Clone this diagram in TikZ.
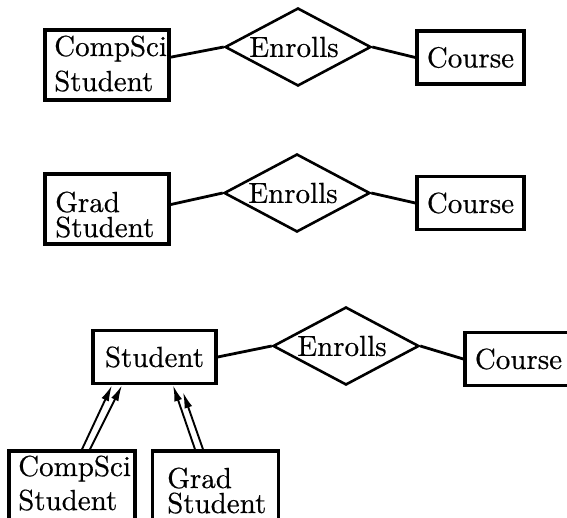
\documentclass[tikz,border=0pt]{standalone}
\usetikzlibrary{shapes.geometric,arrows.meta}
\font\ercfont="[lmroman10-regular]:+tlig;embolden=0.5" at 29pt
\begin{document}
\begin{tikzpicture}[x=1pt,y=-1pt,
  ebox/.style={draw,line width=3.4pt,inner sep=0pt,font=\ercfont},
  rel/.style={draw,diamond,aspect=1.9,line width=2.6pt,inner sep=0pt,minimum width=146pt,minimum height=78pt,font=\ercfont},
  conn/.style={line width=2.8pt},
  lbl/.style={inner sep=0pt,anchor=base west,font=\ercfont},
  isa/.style={line width=1.9pt,-{Latex[length=16pt,width=8pt]}}]
\useasboundingbox (0,0) rectangle (567,518);
\clip (0,0) rectangle (567,518);
% row 1
\node[ebox,minimum width=124pt,minimum height=70pt] (cs1) at (107,65) {};
\node[lbl] (cs1a) at (54,56) {CompSci};
\node[lbl] (cs1b) at (54,91) {Student};
\node[rel] (r1) at (298,47) {\hspace*{-8pt}Enrolls};
\node[ebox,minimum width=107pt,minimum height=53pt] (co1) at (470.5,57.5) {Course};
\draw[conn] (cs1.7) -- (r1.west);
\draw[conn] (r1.east) -- (co1.west);
% row 2
\node[ebox,minimum width=124pt,minimum height=70pt] (g2) at (107,209) {};
\node[lbl] (g2a) at (55,212) {Grad};
\node[lbl] (g2b) at (55,237) {Student};
\node[rel] (r2) at (297,193) {\hspace*{-8pt}Enrolls};
\node[ebox,minimum width=107pt,minimum height=53pt] (co2) at (470.5,203) {Course};
\draw[conn] (g2.4) -- (r2.west);
\draw[conn] (r2.east) -- (co2.west);
% row 3
\node[ebox,minimum width=123pt,minimum height=53pt] (st) at (154.5,357) {Student};
\node[rel] (r3) at (346,346) {\hspace*{-8pt}Enrolls};
\node[ebox,minimum width=107pt,minimum height=53pt] (co3) at (518.5,359) {Course};
\draw[conn] (st.east) -- (r3.west);
\draw[conn] (r3.east) -- (co3.west);
% subclasses
\node[ebox,minimum width=126pt,minimum height=70pt] (csb) at (72,486) {};
\node[lbl] (csba) at (18,476) {CompSci};
\node[lbl] (csbb) at (18,510) {Student};
\node[ebox,minimum width=126pt,minimum height=70pt] (gb) at (215.5,486) {};
\node[lbl] (gba) at (167,488) {Grad};
\node[lbl] (gbb) at (167,513) {Student};
\draw[isa] ([xshift=10pt]csb.north) -- ([xshift=-42.5pt]st.south);
\draw[isa] ([xshift=18pt]csb.north) -- ([xshift=-32.5pt]st.south);
\draw[isa] ([xshift=-20.5pt]gb.north) -- ([xshift=18.5pt]st.south);
\draw[isa] ([xshift=-12.5pt]gb.north) -- ([xshift=28.5pt,yshift=-7pt]st.south);
\end{tikzpicture}
\end{document}
